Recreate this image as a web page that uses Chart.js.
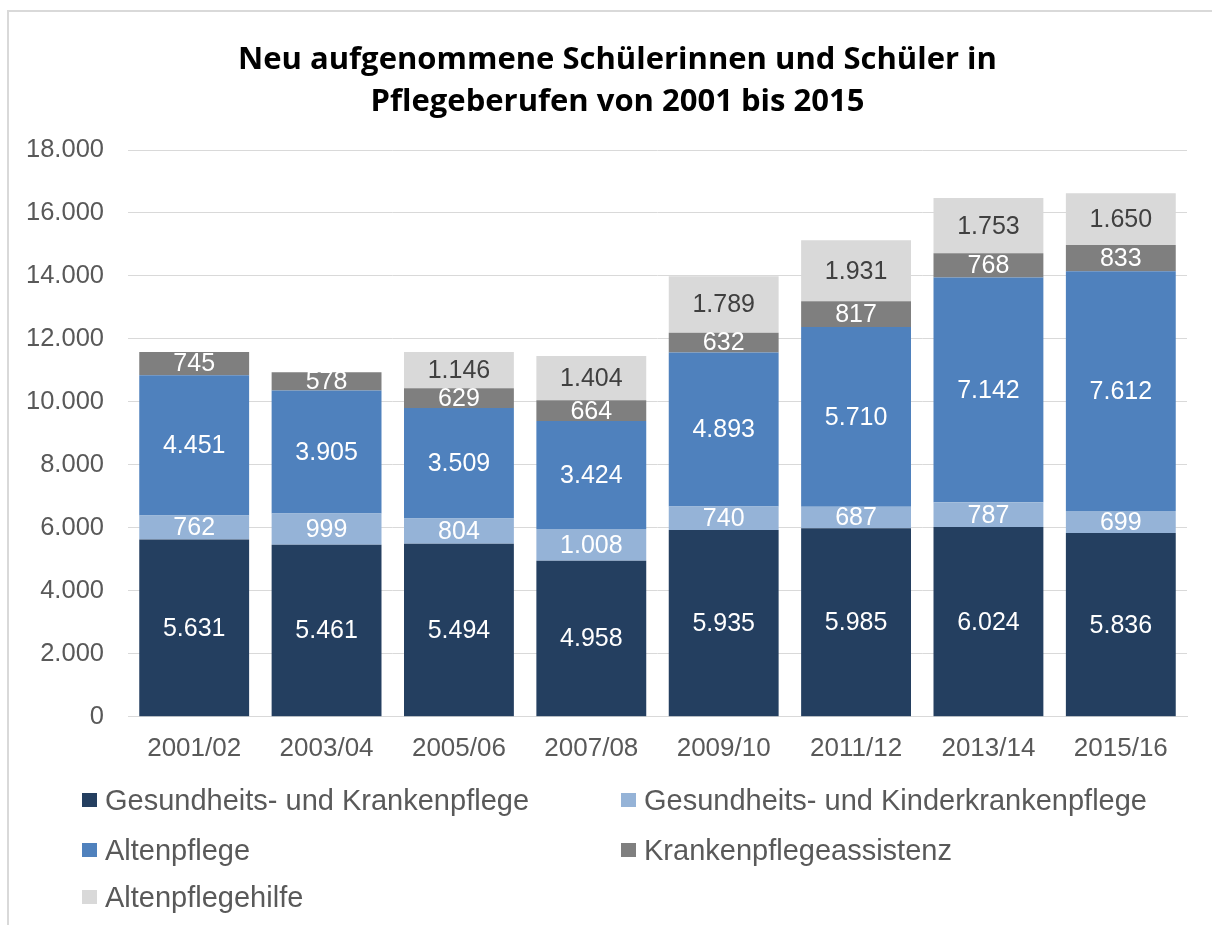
<!DOCTYPE html>
<html>
<head>
<meta charset="utf-8">
<script src="https://cdn.jsdelivr.net/npm/chart.js@4"></script>
<style>
  html, body { margin: 0; padding: 0; background: #fff; overflow: hidden; }
  #frame { position: absolute; left: 7px; top: 10px; width: 1240px; height: 960px; border: 2px solid #d9d9d9; box-sizing: border-box; }
  #wrap { position: absolute; left: 0; top: 0; width: 1212px; height: 925px; }
  #legend { position: absolute; left: 0; top: 0; width: 1212px; height: 925px; pointer-events: none;
            font-family: "Liberation Sans", Arial, sans-serif; font-size: 29px; color: #595959; }
  .li { position: absolute; white-space: nowrap; line-height: 34px; height: 34px; }
  .sw { position: absolute; width: 15px; height: 14px; top: 10px; left: 0; }
  .tx { position: absolute; left: 23px; top: 0; }
</style>
</head>
<body>
<div id="frame"></div>
<div id="wrap"><canvas id="c" width="1212" height="925"></canvas></div>
<div id="legend"></div>
<script>
const titleLines = ["Neu aufgenommene Schülerinnen und Schüler in", "Pflegeberufen von 2001 bis 2015"];
const categories = ["2001/02", "2003/04", "2005/06", "2007/08", "2009/10", "2011/12", "2013/14", "2015/16"];
const seriesNames = ["Gesundheits- und Krankenpflege", "Gesundheits- und Kinderkrankenpflege", "Altenpflege", "Krankenpflegeassistenz", "Altenpflegehilfe"];
const gukValues  = [5631, 5461, 5494, 4958, 5935, 5985, 6024, 5836];
const gukikValues = [762, 999, 804, 1008, 740, 687, 787, 699];
const apValues   = [4451, 3905, 3509, 3424, 4893, 5710, 7142, 7612];
const kpaValues  = [745, 578, 629, 664, 632, 817, 768, 833];
const aphValues  = [null, null, 1146, 1404, 1789, 1931, 1753, 1650];
const yTicks = [0, 2000, 4000, 6000, 8000, 10000, 12000, 14000, 16000, 18000];

const seriesColors = ["#243F60", "#95B3D7", "#4F81BD", "#7F7F7F", "#D9D9D9"];
const labelColors = ["#ffffff", "#ffffff", "#ffffff", "#ffffff", "#404040"];
const allValues = [gukValues, gukikValues, apValues, kpaValues, aphValues];

const fmt = v => v.toLocaleString("de-DE");

const dataLabels = {
  id: "dataLabels",
  afterDatasetsDraw(chart) {
    const ctx = chart.ctx;
    ctx.save();
    ctx.font = '25px "Liberation Sans", Arial, sans-serif';
    ctx.textAlign = "center";
    ctx.textBaseline = "middle";
    chart.data.datasets.forEach((ds, i) => {
      const meta = chart.getDatasetMeta(i);
      meta.data.forEach((el, j) => {
        const v = ds.data[j];
        if (v === null || v === undefined) return;
        ctx.fillStyle = labelColors[i];
        ctx.fillText(fmt(v), el.x, (el.y + el.base) / 2 + 1);
      });
    });
    ctx.restore();
  }
};

const titlePlugin = {
  id: "frameTitle",
  afterDraw(chart) {
    const ctx = chart.ctx;
    ctx.save();
    ctx.font = "bold 31px 'Open Sans', sans-serif";
    ctx.fillStyle = "#000000";
    ctx.textAlign = "center";
    ctx.textBaseline = "middle";
    const cx = 617.5;
    titleLines.forEach((t, i) => ctx.fillText(t, cx, 60 + i * 42));
    ctx.restore();
  }
};

const chart = new Chart(document.getElementById("c"), {
  type: "bar",
  data: {
    labels: categories,
    datasets: allValues.map((vals, i) => ({
      label: seriesNames[i],
      data: vals,
      backgroundColor: seriesColors[i],
      borderWidth: 0,
      barPercentage: 0.83,
      categoryPercentage: 1.0
    }))
  },
  options: {
    responsive: false,
    animation: false,
    devicePixelRatio: 1,
    layout: { padding: { left: 10, right: 25, top: 150, bottom: 145 } },
    plugins: {
      legend: { display: false },
      tooltip: { enabled: false },
      title: { display: false }
    },
    scales: {
      x: {
        stacked: true,
        grid: { display: false, drawTicks: false },
        border: { display: true, color: "#d9d9d9", width: 1 },
        ticks: { color: "#595959", font: { family: "'Liberation Sans', Arial, sans-serif", size: 26 }, padding: 16 }
      },
      y: {
        stacked: true,
        min: 0, max: 18000,
        afterFit(scale) { scale.width = 118; },
        afterBuildTicks(scale) { scale.ticks = yTicks.map(v => ({ value: v })); },
        grid: { color: "#d9d9d9", lineWidth: 1, drawTicks: false },
        border: { display: false },
        ticks: {
          color: "#595959",
          font: { family: "'Liberation Sans', Arial, sans-serif", size: 25.5 },
          padding: 24,
          callback: v => fmt(v)
        }
      }
    }
  },
  plugins: [dataLabels, titlePlugin]
});

// HTML legend built from the chart's datasets
const legendPos = [[82, 783], [621, 783], [82, 833], [621, 833], [82, 880]];
const leg = document.getElementById("legend");
chart.data.datasets.forEach((ds, i) => {
  const d = document.createElement("div");
  d.className = "li";
  d.style.left = legendPos[i][0] + "px";
  d.style.top = legendPos[i][1] + "px";
  d.innerHTML = '<span class="sw" style="background:' + ds.backgroundColor + '"></span><span class="tx"></span>';
  d.querySelector(".tx").textContent = ds.label;
  leg.appendChild(d);
});
</script>
</body>
</html>
